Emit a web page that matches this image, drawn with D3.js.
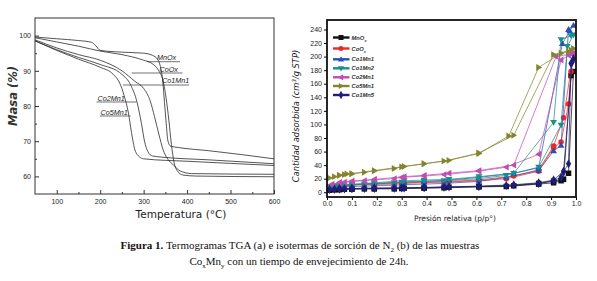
<!DOCTYPE html>
<html>
<head>
<meta charset="utf-8">
<script src="https://cdn.jsdelivr.net/npm/d3@7"></script>
<style>
  body { margin: 0; background: #fff; }
  svg { display: block; }
  .tick text { font-family: "Liberation Sans", Arial, sans-serif; font-size: 7px; fill: #222; }
</style>
</head>
<body>
<div id="chart"></div>
<script>
// ---------------- data: (a) TGA, temperature / mass pairs ----------------
var tgaTicks = [100, 200, 300, 400, 500, 600];
var massTicks = [60, 70, 80, 90, 100];
var tgaA = [[50,99.6],[100,99.1],[150,98.6],[180,98.1],[190,97.1],[200,95.8],[250,95.3],[300,95],[320,94.4],[332,93.3],[338,91.5],[344,87],[348,81],[352,75],[356,70],[362,68.6],[380,68.2],[450,67.3],[600,65]];
var tgaB = [[50,99.4],[100,98.2],[150,97],[200,95.6],[250,94.6],[300,93],[320,92],[335,90],[345,87],[352,82],[358,76],[364,69],[370,64],[378,61.5],[390,60.4],[420,60.1],[600,59.9]];
var tgaC = [[50,98.8],[100,96.5],[150,94.6],[200,93],[250,90],[280,87],[300,85],[315,81.5],[325,77],[335,72],[345,67.5],[355,65],[368,63.3],[385,61.5],[410,60.8],[600,60.6]];
var tgaD = [[50,98.5],[100,96],[150,93.8],[200,91.8],[250,89],[270,86],[285,81],[295,75],[302,70],[310,67],[320,65.8],[340,65.5],[450,64.7],[600,63.6]];
var tgaE = [[50,98.5],[100,95.8],[150,93.3],[200,91],[230,89],[245,86.5],[255,83],[265,78],[272,72.5],[280,67.5],[290,65.6],[300,65],[400,64.3],[500,63.7],[600,63.1]];
var tgaLabels = ["MnOx", "CoOx", "Co1Mn1", "Co2Mn1", "Co5Mn1"];

// ---------------- data: (b) N2 isotherms, p/p0 / volume pairs (adsorption then desorption) ----------------
var pTicks = [0, 0.1, 0.2, 0.3, 0.4, 0.5, 0.6, 0.7, 0.8, 0.9, 1.0];
var volTicks = [0, 20, 40, 60, 80, 100, 120, 140, 160, 180, 200, 220, 240];
var isoNames = ["MnO", "CoO", "Co1Mn1", "Co1Mn2", "Co2Mn1", "Co5Mn1", "Co1Mn5"];
var mnox = [[0.01,3],[0.03,3.5],[0.05,4],[0.07,4.5],[0.10,4.5],[0.15,5],[0.19,5],[0.27,5],[0.30,5.5],[0.39,6],[0.47,6.5],[0.61,8],[0.72,8.5],[0.85,12],[0.91,14],[0.94,17],[0.97,28],[0.99,178],[0.98,172],[0.95,19],[0.91,16.5],[0.85,13],[0.75,9.5],[0.61,8.3],[0.49,7.5],[0.39,6.5],[0.31,6],[0.19,5.5],[0.10,5],[0.05,4]];
var coox = [[0.01,8],[0.03,9],[0.05,9.5],[0.07,10],[0.10,10.5],[0.15,11],[0.19,11.5],[0.27,12],[0.30,13],[0.39,14],[0.47,15],[0.61,17],[0.72,20],[0.85,31],[0.91,66],[0.94,74],[0.97,130],[0.98,178],[0.99,205],[0.95,110],[0.91,68],[0.85,33],[0.75,24],[0.61,18],[0.49,16],[0.39,15],[0.31,14],[0.19,12.5],[0.10,11],[0.05,10]];
var co1mn1 = [[0.01,6],[0.03,7],[0.05,7.5],[0.07,8],[0.10,8.5],[0.15,9],[0.19,9.5],[0.27,10.5],[0.30,11],[0.39,12],[0.47,13],[0.61,16],[0.72,22],[0.85,32],[0.91,61],[0.94,69],[0.97,240],[0.99,246],[0.975,238],[0.945,219],[0.85,36],[0.75,28],[0.61,22],[0.49,18],[0.39,16],[0.31,15],[0.19,13],[0.10,11],[0.05,9]];
var co1mn2 = [[0.01,8],[0.03,9],[0.05,10],[0.07,10.5],[0.10,11],[0.15,12],[0.19,12.5],[0.27,14],[0.30,15],[0.39,16],[0.47,17],[0.61,20],[0.72,25],[0.85,37],[0.94,99],[0.965,215],[0.99,232],[0.98,231],[0.94,225],[0.91,103],[0.75,28],[0.61,23],[0.49,19],[0.39,18],[0.31,17],[0.19,14],[0.10,12],[0.05,10]];
var co2mn1 = [[0.02,12],[0.05,14],[0.07,15],[0.10,16],[0.15,17],[0.19,18.5],[0.27,20],[0.30,22],[0.39,24],[0.47,26],[0.61,31],[0.72,37],[0.85,56],[0.94,195],[0.97,202],[0.99,205],[0.98,204],[0.92,200],[0.75,40],[0.61,32],[0.49,28],[0.39,25],[0.31,23],[0.19,19],[0.10,16.5],[0.05,14.5]];
var co5mn1 = [[0.01,21],[0.03,23],[0.05,25],[0.07,26],[0.08,27],[0.10,27],[0.15,29.5],[0.19,31.5],[0.27,35],[0.30,37.5],[0.39,42],[0.47,46],[0.61,57],[0.73,83],[0.85,184],[0.94,205],[0.97,207],[0.99,212],[0.98,210],[0.91,203],[0.75,84],[0.61,58],[0.49,47],[0.39,42],[0.31,38],[0.19,32],[0.10,27.5],[0.05,25]];
var co1mn5 = [[0.01,4],[0.03,4.5],[0.05,5],[0.07,5],[0.10,5.5],[0.15,5.5],[0.19,6],[0.27,6],[0.30,6.5],[0.39,7],[0.47,7.5],[0.61,8.5],[0.72,10],[0.85,13],[0.91,17],[0.94,22],[0.95,30],[0.97,42],[0.98,190],[0.99,197],[0.985,192],[0.95,31],[0.91,18],[0.85,14],[0.75,11],[0.61,9],[0.49,8],[0.39,7],[0.31,6.5],[0.19,6],[0.10,5.5],[0.05,5]];

var isoData = [mnox, coox, co1mn1, co1mn2, co2mn1, co5mn1, co1mn5];
var isoColors = ["#111111", "#f02828", "#2d4fb4", "#17908c", "#c24cb4", "#84842c", "#1e1e7a"];
var isoSymbols = ["square", "circle", "up", "down", "left", "right", "diamond"];

var W = 597, H = 281;
var svg = d3.select("#chart").append("svg").attr("width", W).attr("height", H);
svg.append("rect").attr("width", W).attr("height", H).attr("fill", "#fff");

/*************************** (a) TGA ***************************/
var xa = d3.scaleLinear().domain([50, 600]).range([35, 274]);
var ya = d3.scaleLinear().domain([55, 105]).range([194, 18]);

var ga = svg.append("g");
ga.append("g")
  .attr("transform", "translate(0,194)")
  .call(d3.axisBottom(xa).tickValues(tgaTicks).tickSizeInner(-4).tickSizeOuter(0).tickPadding(5).tickFormat(d3.format("d")))
  .call(function(g){ g.select(".domain").remove(); g.selectAll("line").attr("stroke", "#333"); });
ga.append("g")
  .attr("transform", "translate(0,194)")
  .call(d3.axisBottom(xa).tickValues([150, 250, 350, 450, 550]).tickSizeInner(-2).tickSizeOuter(0).tickFormat(""))
  .call(function(g){ g.select(".domain").remove(); g.selectAll("line").attr("stroke", "#333"); });
ga.append("g")
  .attr("transform", "translate(35,0)")
  .call(d3.axisLeft(ya).tickValues(massTicks).tickSizeInner(-4).tickSizeOuter(0).tickPadding(4))
  .call(function(g){ g.select(".domain").remove(); g.selectAll("line").attr("stroke", "#333"); });
ga.append("g")
  .attr("transform", "translate(35,0)")
  .call(d3.axisLeft(ya).tickValues([65, 75, 85, 95]).tickSizeInner(-2).tickSizeOuter(0).tickFormat(""))
  .call(function(g){ g.select(".domain").remove(); g.selectAll("line").attr("stroke", "#333"); });

var tgaLine = d3.line().curve(d3.curveMonotoneX)
  .x(function(d){ return xa(d[0]); })
  .y(function(d){ return ya(d[1]); });

[tgaA, tgaB, tgaC, tgaD, tgaE].forEach(function(c){
  ga.append("path").datum(c)
    .attr("d", tgaLine)
    .attr("fill", "none")
    .attr("stroke", "#2a2a2a")
    .attr("stroke-width", 0.8);
});

ga.append("rect")
  .attr("x", 35).attr("y", 18).attr("width", 239).attr("height", 176)
  .attr("fill", "none").attr("stroke", "#333").attr("stroke-width", 1);

// curve labels with underline leaders
var tgaLabelPos = [
  {x: 157, y: 60, x1: 147, x2: 180, ly: 61.7},
  {x: 159.5, y: 71.5, x1: 131.7, x2: 182.5, ly: 73},
  {x: 162, y: 83, x1: 123, x2: 189, ly: 85},
  {x: 97.5, y: 100.5, x1: 96.5, x2: 136.5, ly: 102},
  {x: 100.5, y: 114.5, x1: 100, x2: 130.5, ly: 116}
];
tgaLabels.forEach(function(t, i){
  var p = tgaLabelPos[i];
  ga.append("text").attr("x", p.x).attr("y", p.y)
    .attr("font-family", "Liberation Sans, Arial, sans-serif")
    .attr("font-size", 7.2).attr("font-style", "italic").attr("fill", "#222")
    .text(t);
  ga.append("line").attr("x1", p.x1).attr("x2", p.x2).attr("y1", p.ly).attr("y2", p.ly)
    .attr("stroke", "#333").attr("stroke-width", 0.7);
});

ga.append("text")
  .attr("transform", "translate(17,96) rotate(-90)")
  .attr("text-anchor", "middle")
  .attr("font-family", "DejaVu Sans, sans-serif")
  .attr("font-size", 11.5).attr("font-style", "italic").attr("font-weight", "bold").attr("fill", "#333")
  .text("Masa (%)");
ga.append("text")
  .attr("x", 181).attr("y", 218)
  .attr("text-anchor", "middle")
  .attr("font-family", "DejaVu Sans, sans-serif")
  .attr("font-size", 10.5).attr("fill", "#222")
  .text("Temperatura (°C)");

/*************************** (b) isotherms ***************************/
var xb = d3.scaleLinear().domain([0, 1]).range([327, 576]);
var yb = d3.scaleLinear().domain([-7, 254]).range([197, 20]);

var gb = svg.append("g");
gb.append("g")
  .attr("transform", "translate(0,197)")
  .call(d3.axisBottom(xb).tickValues(pTicks).tickSizeInner(3).tickSizeOuter(0).tickPadding(1).tickFormat(d3.format(".1f")))
  .call(function(g){ g.select(".domain").remove(); });
gb.append("g")
  .attr("transform", "translate(327,0)")
  .call(d3.axisLeft(yb).tickValues(volTicks).tickSizeInner(3).tickSizeOuter(0).tickPadding(2))
  .call(function(g){ g.select(".domain").remove(); });

var isoLine = d3.line()
  .x(function(d){ return xb(d[0]); })
  .y(function(d){ return yb(d[1]); });

function symbolPath(kind, s) {
  if (kind === "square") return d3.symbol(d3.symbolSquare, s * s)();
  if (kind === "circle") return d3.symbol(d3.symbolCircle, s * s * 0.8)();
  if (kind === "diamond") return d3.symbol(d3.symbolDiamond, s * s * 0.8)();
  var r = s * 0.62, pts;
  if (kind === "up") pts = [[0, -r], [r, r * 0.7], [-r, r * 0.7]];
  if (kind === "down") pts = [[0, r], [r, -r * 0.7], [-r, -r * 0.7]];
  if (kind === "left") pts = [[-r, 0], [r * 0.7, -r], [r * 0.7, r]];
  if (kind === "right") pts = [[r, 0], [-r * 0.7, -r], [-r * 0.7, r]];
  return "M" + pts.map(function(p){ return p.join(","); }).join("L") + "Z";
}

isoData.forEach(function(series, i){
  var g = gb.append("g");
  g.append("path").datum(series)
    .attr("d", isoLine)
    .attr("fill", "none")
    .attr("stroke", isoColors[i])
    .attr("stroke-width", 0.8)
    .attr("opacity", 0.9);
  g.selectAll("path.pt").data(series).enter().append("path")
    .attr("class", "pt")
    .attr("transform", function(d){ return "translate(" + xb(d[0]) + "," + yb(d[1]) + ")"; })
    .attr("d", symbolPath(isoSymbols[i], 5.5))
    .attr("fill", isoColors[i]);
});

gb.append("rect")
  .attr("x", 327).attr("y", 20).attr("width", 249).attr("height", 177)
  .attr("fill", "none").attr("stroke", "#111").attr("stroke-width", 1.8);

// legend
var legend = gb.append("g");
isoNames.forEach(function(name, i){
  var ly = [37.5, 48.5, 59.3, 68.3, 77.3, 86, 95][i];
  legend.append("line").attr("x1", 333).attr("x2", 349.5).attr("y1", ly).attr("y2", ly)
    .attr("stroke", isoColors[i]).attr("stroke-width", 2.4);
  legend.append("path")
    .attr("transform", "translate(341," + ly + ")")
    .attr("d", symbolPath(isoSymbols[i], 5))
    .attr("fill", isoColors[i]);
  var t = legend.append("text").attr("x", 351.5).attr("y", ly + 2)
    .attr("font-family", "Liberation Sans, Arial, sans-serif")
    .attr("font-size", 5.8).attr("font-style", "italic").attr("font-weight", "bold")
    .attr("fill", "#333").text(name);
  if (i < 2) t.append("tspan").attr("dy", 2).attr("font-size", 3.8).text("x");
});

var yt = gb.append("text")
  .attr("transform", "translate(299,116) rotate(-90)")
  .attr("text-anchor", "middle")
  .attr("font-family", "DejaVu Sans, sans-serif")
  .attr("font-size", 8.3).attr("font-style", "italic").attr("fill", "#222");
yt.append("tspan").text("Cantidad adsorbida (cm");
yt.append("tspan").attr("dy", -3).attr("font-size", 5.5).text("3");
yt.append("tspan").attr("dy", 3).text("/g STP)");

gb.append("text")
  .attr("x", 455).attr("y", 221)
  .attr("text-anchor", "middle")
  .attr("font-family", "DejaVu Sans, sans-serif")
  .attr("font-size", 7.5).attr("fill", "#222")
  .text("Presión relativa (p/p°)");

/*************************** caption ***************************/
var cap1 = svg.append("text")
  .attr("x", 300).attr("y", 249).attr("text-anchor", "middle")
  .attr("font-family", "Liberation Serif, Times New Roman, serif")
  .attr("font-size", 11).attr("fill", "#111");
cap1.append("tspan").attr("font-weight", "bold").text("Figura 1.");
cap1.append("tspan").text(" Termogramas TGA (a) e isotermas de sorción de N");
cap1.append("tspan").attr("dy", 3).attr("font-size", 7).text("2");
cap1.append("tspan").attr("dy", -3).text(" (b) de las muestras");

var cap2 = svg.append("text")
  .attr("x", 299).attr("y", 265).attr("text-anchor", "middle")
  .attr("font-family", "Liberation Serif, Times New Roman, serif")
  .attr("font-size", 11).attr("fill", "#111");
cap2.append("tspan").text("Co");
cap2.append("tspan").attr("dy", 3).attr("font-size", 7).text("x");
cap2.append("tspan").attr("dy", -3).text("Mn");
cap2.append("tspan").attr("dy", 3).attr("font-size", 7).text("y");
cap2.append("tspan").attr("dy", -3).text(" con un tiempo de envejecimiento de 24h.");
</script>
</body>
</html>
